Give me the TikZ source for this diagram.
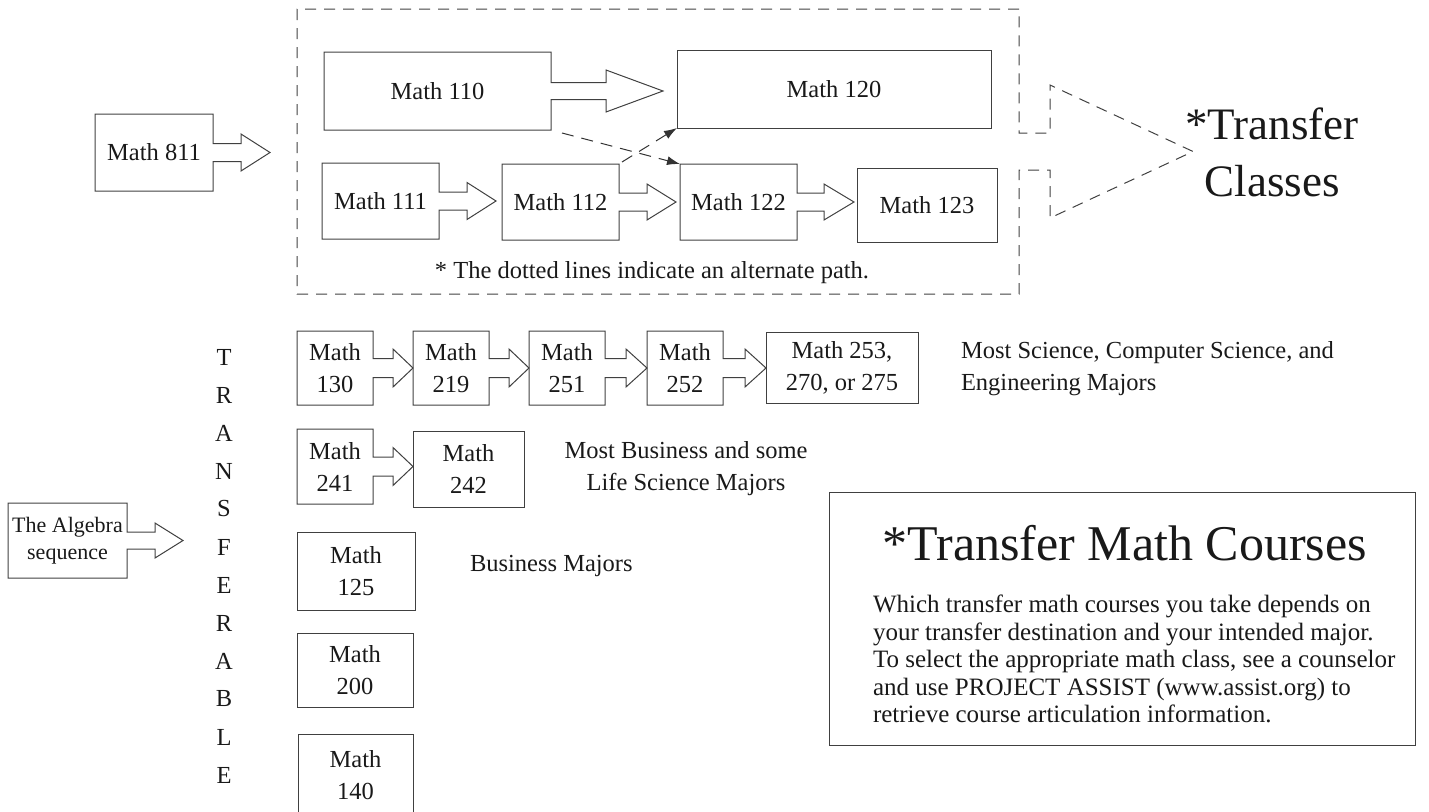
\documentclass[tikz,border=0pt]{standalone}
\usepackage{fontspec}
\setmainfont{Liberation Serif}
\usetikzlibrary{arrows.meta}

% box with a block arrow on its right side
% #2 node, #3 shaft half height, #4 shaft length, #5 head half height, #6 head length
\newcommand{\arrowbox}[6][]{%
  \draw[boxline,#1] (#2.north east) -- (#2.north west) -- (#2.south west) -- (#2.south east)
    -- ([yshift=-#3pt]#2.east) -- ++(#4pt,0pt) -- ++(0pt,{#3pt-#5pt})
    -- ++(#6pt,#5pt) coordinate (#2-tip) -- ++(-#6pt,#5pt) -- ++(0pt,{#3pt-#5pt})
    -- ++(-#4pt,0pt) -- cycle;
}

\begin{document}
\begin{tikzpicture}[x=1pt,y=-1pt,
    boxline/.style={line width=1pt,draw=black!75},
    txt/.style={font=\fontsize{24.5}{32}\selectfont,text=black!90,inner sep=0pt,outer sep=0pt},
    course/.style n args={2}{txt,align=center,minimum width=#1 pt,minimum height=#2 pt},
    plainbox/.style n args={2}{course={#1}{#2},draw,boxline},
    altpath/.style={line width=1pt,black!80,dash pattern=on 12pt off 8pt,-{Latex[length=13pt,width=9pt]}}]

    \useasboundingbox (0,0) rectangle (1429,811);

    % top part
    \node[course={722}{285}] (frame) at (658,151.5) {};
    \arrowbox[dash pattern=on 11pt off 8pt]{frame}{18.5}{31}{66.5}{143}
    \node[txt,align=center,font=\fontsize{45}{57}\selectfont] (tclasses) at (1272,152) {*Transfer\\Classes};

    \node[course={118}{77}] (m811) at (154,152.5) {Math 811};
    \arrowbox{m811}{9}{28}{18.5}{29}

    \node[course={227}{78}] (m110) at (437.5,91) {Math 110};
    \arrowbox{m110}{8.5}{55}{21}{57}
    \node[plainbox={314}{78}] (m120) at (834,89) {Math 120};

    \node[course={117}{76}] (m111) at (380.5,201) {Math 111};
    \arrowbox{m111}{9}{28}{18.5}{29}
    \node[course={117}{76}] (m112) at (560.5,202) {Math 112};
    \arrowbox{m112}{9}{28}{18}{29}
    \node[course={117}{76}] (m122) at (738.5,202) {Math 122};
    \arrowbox{m122}{9}{27}{18}{30}
    \node[plainbox={140}{74}] (m123) at (927,205) {Math 123};

    \coordinate (alt110) at (562,133);
    \coordinate (alt112) at (622,162);
    \draw[altpath] (alt110) -- (m122.north west);
    \draw[altpath] (alt112) -- (m120.south west);

    \node[txt] (note) at (652,273) {* The dotted lines indicate an alternate path.};

    % transferable column
    \foreach \ch [count=\i] in {T,R,A,N,S,F,E,R,A,B,L,E}
        \node[txt] (tl\i) at (224,{357+(\i-1)*38}) {\ch};

    \node[course={119}{75},font=\fontsize{22}{27}\selectfont] (alg) at (67.5,540.5) {The Algebra\\sequence};
    \arrowbox{alg}{8.5}{28}{17.5}{28}

    % science row
    \node[course={76}{74}] (m130) at (335,368) {Math\\130};
    \arrowbox{m130}{9.5}{20}{19}{20}
    \node[course={76}{74}] (m219) at (451,368) {Math\\219};
    \arrowbox{m219}{9.5}{20}{19}{20}
    \node[course={76}{74}] (m251) at (567,368) {Math\\251};
    \arrowbox{m251}{9.5}{21}{19}{21}
    \node[course={76}{74}] (m252) at (685,368) {Math\\252};
    \arrowbox{m252}{9.5}{22}{19}{21}
    \node[plainbox={152}{71}] (m253) at (842,367.5) {Math 253,\\270, or 275};
    \node[txt,align=left,anchor=west] (sci) at (961,369) {Most Science, Computer Science, and\\Engineering Majors};

    % business row
    \node[course={76}{75}] (m241) at (335,466.5) {Math\\241};
    \arrowbox{m241}{9.5}{20}{19}{20}
    \node[plainbox={111}{76}] (m242) at (468.5,469) {Math\\242};
    \node[txt,align=center] (bus) at (686,469) {Most Business and some\\Life Science Majors};

    \node[plainbox={118}{78}] (m125) at (356,571) {Math\\125};
    \node[txt,anchor=west] (busonly) at (470,566) {Business Majors};
    \node[plainbox={116}{74}] (m200) at (355,670) {Math\\200};
    \node[plainbox={115}{82}] (m140) at (355.5,775) {Math\\140};

    % info box
    \node[draw,boxline,minimum width=586pt,minimum height=253pt,anchor=north west] (info) at (829,492) {};
    \node[txt,font=\fontsize{50}{58}\selectfont] (infotitle) at (1125,543) {*Transfer Math Courses};
    \node[txt,align=left,anchor=north west,font=\fontsize{25}{27.5}\selectfont] (infotext) at (873,595)
        {Which transfer math courses you take depends on\\
         your transfer destination and your intended major.\\
         To select the appropriate math class, see a counselor\\
         and use PROJECT ASSIST (www.assist.org) to\\
         retrieve course articulation information.};

\end{tikzpicture}
\end{document}
